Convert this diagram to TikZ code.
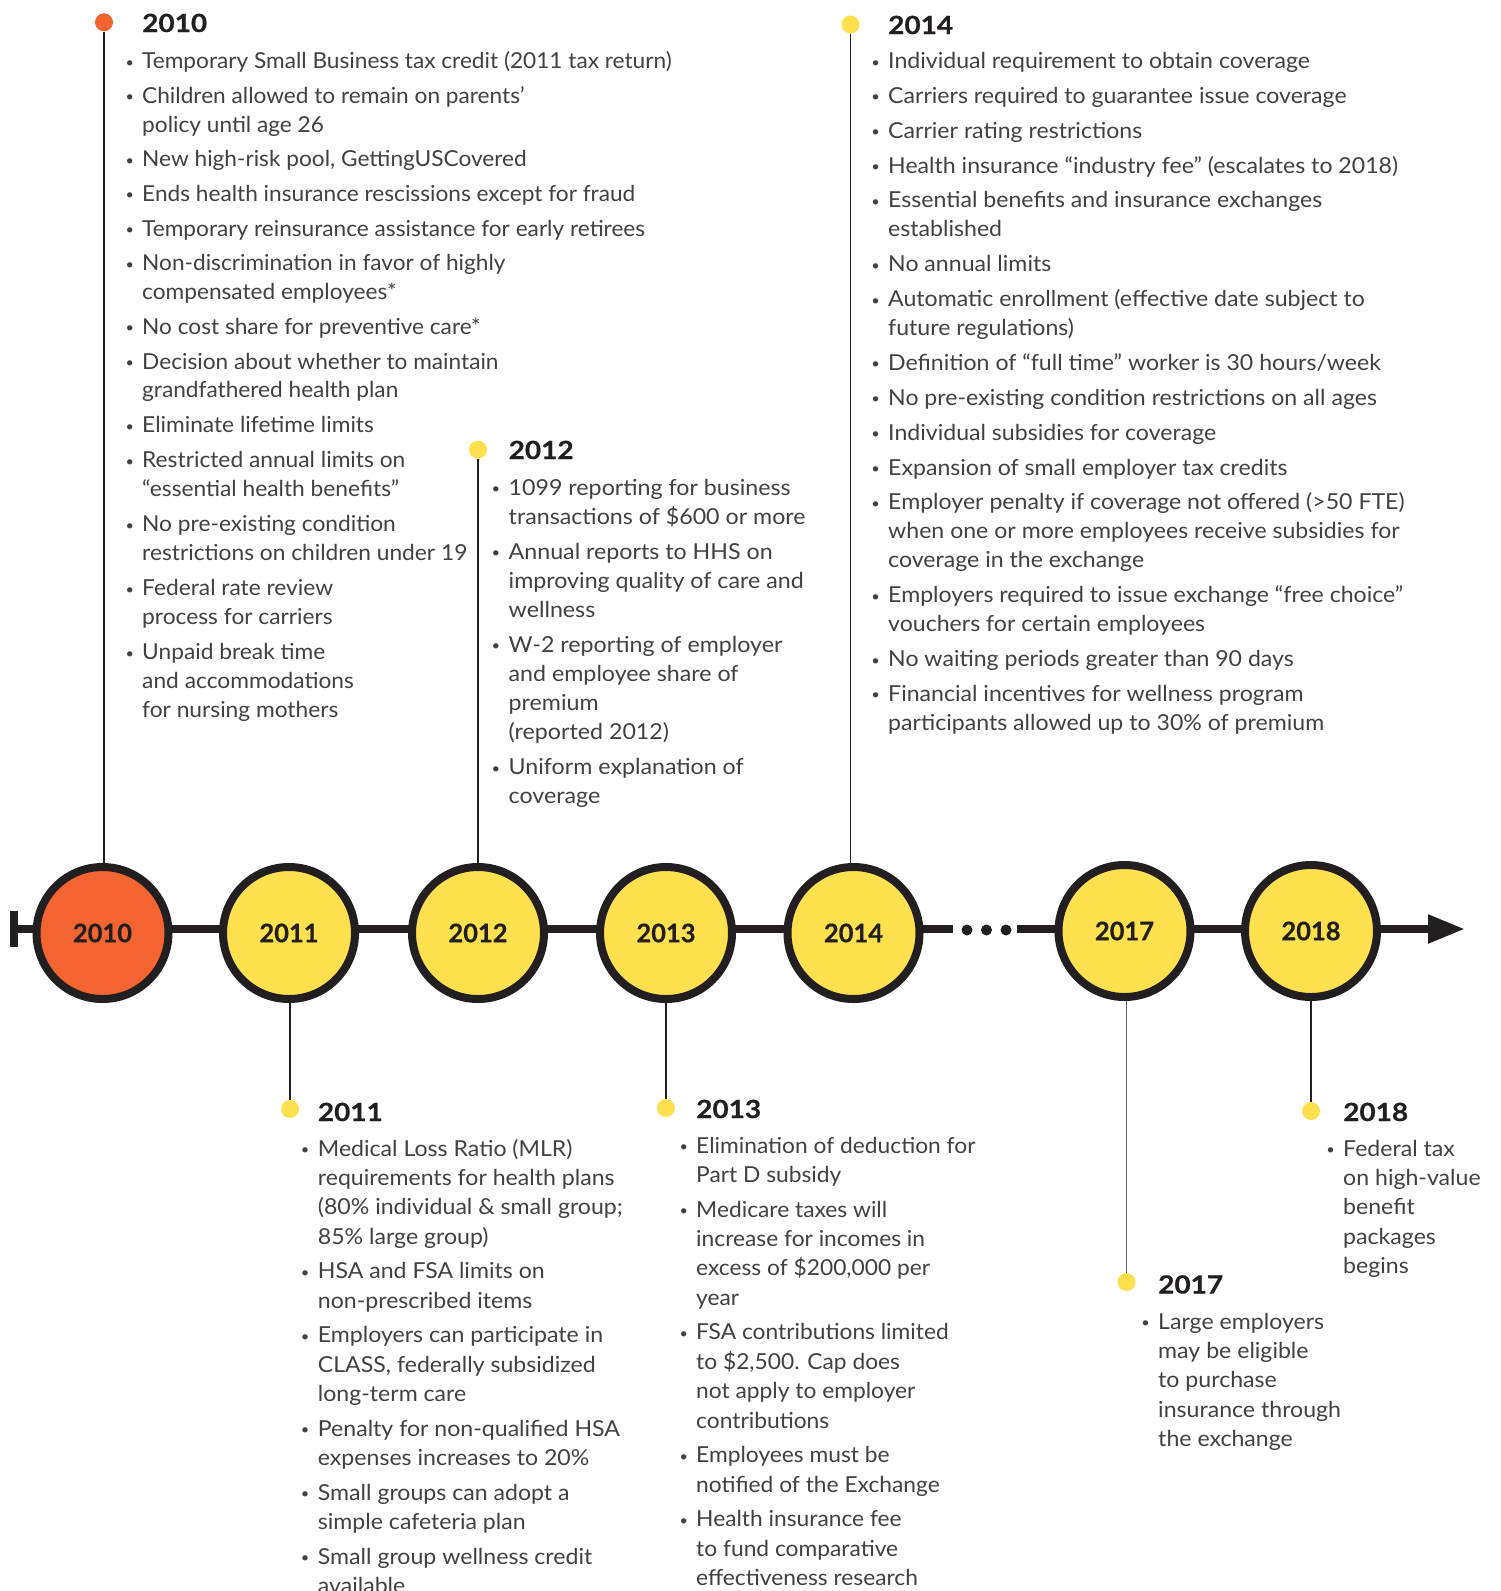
\documentclass[tikz,border=0pt]{standalone}
\usepackage{fontspec}
\setmainfont{Lato}
\usepackage{graphicx}
\usetikzlibrary{arrows.meta}
\definecolor{orng}{HTML}{F26531}
\definecolor{yel}{HTML}{FFE04F}
\definecolor{ink}{HTML}{231F20}
\definecolor{txt}{HTML}{414042}
\newcommand{\bul}{\llap{\raisebox{1.5pt}{\fontsize{14}{14}\selectfont\textbullet}\hspace{8pt}}}
\newlength{\itgap}
\newcommand{\nx}{\\[\itgap]}
% #1 xscale, #2 baselineskip, #3 item gap, #4 content
\newcommand{\blk}[4]{\setlength{\itgap}{#3pt}\scalebox{#1}[1]{\fontsize{22}{#2}\selectfont\color{txt}\begin{tabular}[t]{@{}l@{}}#4\end{tabular}}}
\newcommand{\hd}[1]{\scalebox{1.12}[1]{\addfontfeature{FakeBold=0.6}#1}}
\tikzset{
  yearcirc/.style={circle, draw=ink, line width=8pt, minimum size=132pt, inner sep=0pt,
    font=\fontsize{25.5}{25.5}\selectfont\bfseries\addfontfeature{FakeBold=0.6}, text=ink},
  tdot/.style={circle, fill=yel, minimum size=18pt, inner sep=0pt},
  head/.style={anchor=base west, inner sep=0pt, font=\fontsize{25}{25}\selectfont\bfseries, text=ink},
  body/.style={anchor=base west, inner sep=0pt},
  conn/.style={draw=ink, line width=1.3pt},
  gdot/.style={circle, fill=ink, minimum size=11pt, inner sep=0pt}
}
\begin{document}
\begin{tikzpicture}[x=1pt,y=-1pt]
\fill[white] (0,0) rectangle (1500,1591);
\useasboundingbox (0,0) rectangle (1500,1591);

% coordinates of timeline
\coordinate (start) at (14,929);
\coordinate (gapL) at (953,929);
\coordinate (gapR) at (1017,929);
\coordinate (tip) at (1465,929);
\coordinate (capT) at (14,911);
\coordinate (capB) at (14,947);

% dots (top / bottom)
\node[tdot, fill=orng] (d2010) at (104,22.3) {};
\node[tdot] (d2012) at (478,449.6) {};
\node[tdot] (d2014) at (850.5,24.4) {};
\node[tdot] (d2011) at (290,1109) {};
\node[tdot] (d2013) at (666,1108) {};
\node[tdot] (d2017) at (1126.5,1282) {};
\node[tdot] (d2018) at (1311,1111) {};

% main line
\draw[ink, line width=8pt] (capT) -- (capB);
\draw[ink, line width=8pt] (start) -- (gapL);
\draw[ink, line width=8pt, -{Triangle[length=37pt,width=27pt]}] (gapR) -- (tip);
\node[gdot] (g1) at (967,930) {};
\node[gdot] (g2) at (986.5,930) {};
\node[gdot] (g3) at (1006,930) {};

% connectors
\draw[conn] (d2010) -- (104,900);
\draw[conn] (d2012) -- (478,900);
\draw[conn] (d2014) -- (850.5,900);
\draw[conn] (d2011) -- (290,960);
\draw[conn] (d2013) -- (666,960);
\draw[conn, draw=gray!80!black] (d2017) -- (1126.5,960);
\draw[conn] (d2018) -- (1311,960);

% circles
\node[yearcirc, fill=orng] (c2010) at (102.5,933) {2010};
\node[yearcirc, fill=yel] (c2011) at (289,933) {2011};
\node[yearcirc, fill=yel] (c2012) at (478,933) {2012};
\node[yearcirc, fill=yel] (c2013) at (666,933) {2013};
\node[yearcirc, fill=yel] (c2014) at (853.5,933) {2014};
\node[yearcirc, fill=yel] (c2017) at (1124.5,931) {2017};
\node[yearcirc, fill=yel] (c2018) at (1311,931) {2018};

% headers
\node[head] (h2010) at (142,32) {\hd{2010}};
\node[head] (h2012) at (508.5,459) {\hd{2012}};
\node[head] (h2014) at (888,34) {\hd{2014}};
\node[head] (h2011) at (317.7,1121) {\hd{2011}};
\node[head] (h2013) at (696,1118) {\hd{2013}};
\node[head] (h2017) at (1158,1293.5) {\hd{2017}};
\node[head] (h2018) at (1343,1121) {\hd{2018}};

% 2010
\node[body] (t2010a) at (142,68.5) {\blk{1.03}{28.8}{5.9}{%
\bul Temporary Small Business tax credit (2011 tax return)\nx
\bul Children allowed to remain on parents’\\
policy until age 26\nx
\bul New high-risk pool, GettingUSCovered\nx
\bul Ends health insurance rescissions except for fraud\nx
\bul Temporary reinsurance assistance for early retirees\nx
\bul Non-discrimination in favor of highly\\
compensated employees*\nx
\bul No cost share for preventive care*\nx
\bul Decision about whether to maintain\\
grandfathered health plan}};
\node[body] (t2010b) at (142,432.5) {\blk{1.034}{28.8}{6.4}{%
\bul Eliminate lifetime limits\nx
\bul Restricted annual limits on\\
“essential health benefits”\nx
\bul No pre-existing condition\\
restrictions on children under 19\nx
\bul Federal rate review\\
process for carriers\nx
\bul Unpaid break time\\
and accommodations\\
for nursing mothers}};

% 2012
\node[body] (t2012) at (508.5,495) {\blk{1.055}{29.2}{5.6}{%
\bul 1099 reporting for business\\
transactions of \$600 or more\nx
\bul Annual reports to HHS on\\
improving quality of care and\\
wellness\nx
\bul W-2 reporting of employer\\
and employee share of\\
premium\\
(reported 2012)\nx
\bul Uniform explanation of\\
coverage}};

% 2014
\node[body] (t2014) at (888,68.5) {\blk{1.05}{29}{5.85}{%
\bul Individual requirement to obtain coverage\nx
\bul Carriers required to guarantee issue coverage\nx
\bul Carrier rating restrictions\nx
\bul Health insurance “industry fee” (escalates to 2018)\nx
\bul Essential benefits and insurance exchanges\\
established\nx
\bul No annual limits\nx
\bul Automatic enrollment (effective date subject to\\
future regulations)\nx
\bul Definition of “full time” worker is 30 hours/week\nx
\bul No pre-existing condition restrictions on all ages\nx
\bul Individual subsidies for coverage\nx
\bul Expansion of small employer tax credits\nx
\bul Employer penalty if coverage not offered (>50 FTE)\\
when one or more employees receive subsidies for\\
coverage in the exchange\nx
\bul Employers required to issue exchange “free choice”\\
vouchers for certain employees\nx
\bul No waiting periods greater than 90 days\nx
\bul Financial incentives for wellness program\\
participants allowed up to 30\% of premium}};

% 2011
\node[body] (t2011) at (317.7,1156) {\blk{1.05}{29.4}{5.2}{%
\bul Medical Loss Ratio (MLR)\\
requirements for health plans\\
(80\% individual \& small group;\\
85\% large group)\nx
\bul HSA and FSA limits on\\
non-prescribed items\nx
\bul Employers can participate in\\
CLASS, federally subsidized\\
long-term care\nx
\bul Penalty for non-qualified HSA\\
expenses increases to 20\%\nx
\bul Small groups can adopt a\\
simple cafeteria plan\nx
\bul Small group wellness credit\\
available}};

% 2013
\node[body] (t2013) at (696,1153) {\blk{1.035}{29.4}{5.2}{%
\bul Elimination of deduction for\\
Part D subsidy\nx
\bul Medicare taxes will\\
increase for incomes in\\
excess of \$200,000 per\\
year\nx
\bul FSA contributions limited\\
to \$2,500. Cap does\\
not apply to employer\\
contributions\nx
\bul Employees must be\\
notified of the Exchange\nx
\bul Health insurance fee\\
to fund comparative\\
effectiveness research}};

% 2017
\node[body] (t2017) at (1158,1329) {\blk{1.05}{29.4}{5.2}{%
\bul Large employers\\
may be eligible\\
to purchase\\
insurance through\\
the exchange}};

% 2018
\node[body] (t2018) at (1343,1156) {\blk{1.05}{29.4}{5.2}{%
\bul Federal tax\\
on high-value\\
benefit\\
packages\\
begins}};
\end{tikzpicture}
\end{document}
